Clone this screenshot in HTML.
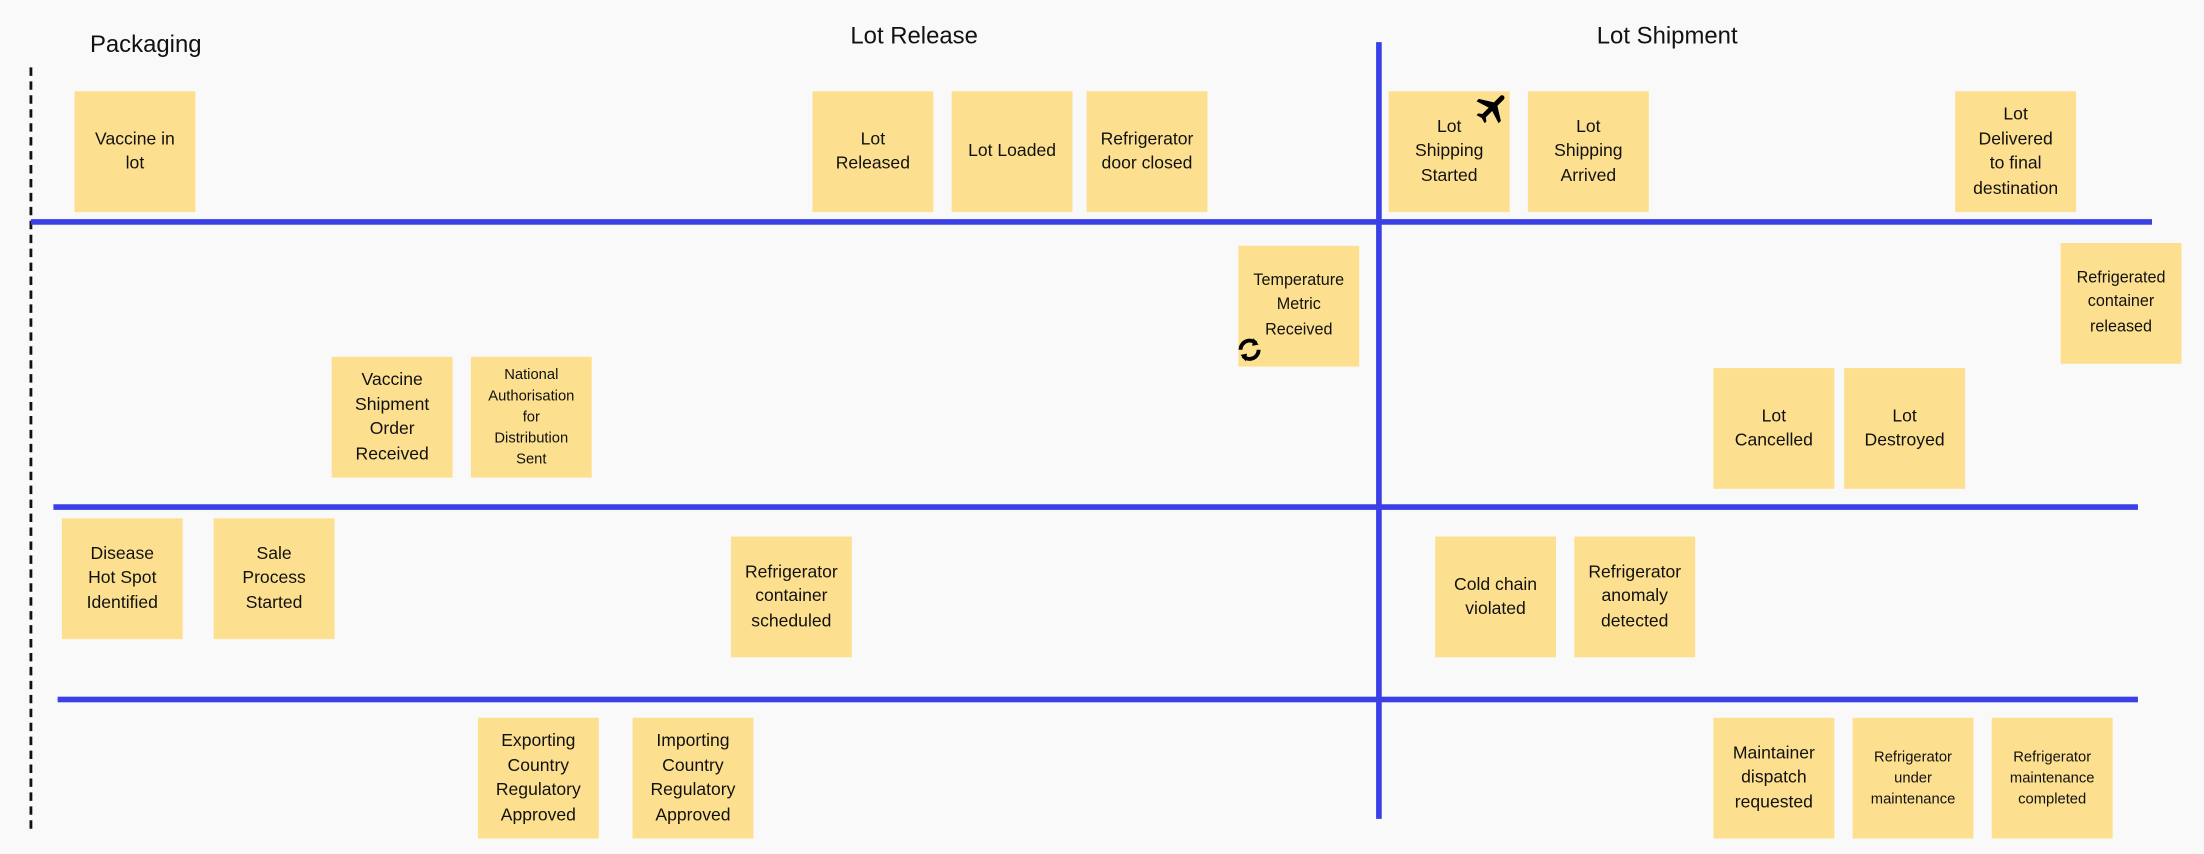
<!DOCTYPE html>
<html><head><meta charset="utf-8"><style>
html,body{margin:0;padding:0;background:#f9f9f9;width:2204px;height:854px;overflow:hidden}
#c{position:absolute;left:0;top:0;width:1568px;height:608px;transform:scale(1.40561,1.40461);transform-origin:0 0;font-family:"Liberation Sans",sans-serif;color:#111}
.s{position:absolute;width:86px;height:86px;background:#fde08f;display:flex;align-items:center;justify-content:center;text-align:center;font-size:12.5px;line-height:17.5px;box-sizing:border-box;padding:0 2px;white-space:nowrap}
.sm{font-size:10.5px;line-height:15px}
.h{position:absolute;background:#3a3fe6;height:4px}
.v{position:absolute;background:#3a3fe6;width:4px}
.t{position:absolute;font-size:17px;white-space:nowrap}
</style></head><body><div id="c">
<div style="position:absolute;left:21px;top:48px;height:542px;border-left:2px dashed #111"></div>
<div class="t" style="left:64px;top:22px">Packaging</div>
<div class="t" style="left:605px;top:16px">Lot Release</div>
<div class="t" style="left:1136px;top:16px">Lot Shipment</div>
<div class="h" style="left:22px;top:156px;width:1509px"></div>
<div class="h" style="left:38px;top:359px;width:1483px"></div>
<div class="h" style="left:41px;top:496px;width:1480px"></div>
<div class="v" style="left:979px;top:30px;height:553px"></div>

<div class="s" style="left:53px;top:65px">Vaccine in<br>lot</div>
<div class="s" style="left:578px;top:65px">Lot<br>Released</div>
<div class="s" style="left:677px;top:65px">Lot Loaded</div>
<div class="s" style="left:773px;top:65px">Refrigerator<br>door closed</div>
<div class="s" style="left:988px;top:65px">Lot<br>Shipping<br>Started</div>
<div class="s" style="left:1087px;top:65px">Lot<br>Shipping<br>Arrived</div>
<div class="s" style="left:1391px;top:65px">Lot<br>Delivered<br>to final<br>destination</div>
<div class="s" style="left:881px;top:175px;font-size:11.5px">Temperature<br>Metric<br>Received</div>
<div class="s" style="left:1466px;top:173px;font-size:11.5px">Refrigerated<br>container<br>released</div>
<div class="s" style="left:236px;top:254px">Vaccine<br>Shipment<br>Order<br>Received</div>
<div class="s sm" style="left:335px;top:254px">National<br>Authorisation<br>for<br>Distribution<br>Sent</div>
<div class="s" style="left:1219px;top:262px">Lot<br>Cancelled</div>
<div class="s" style="left:1312px;top:262px">Lot<br>Destroyed</div>
<div class="s" style="left:44px;top:369px">Disease<br>Hot Spot<br>Identified</div>
<div class="s" style="left:152px;top:369px">Sale<br>Process<br>Started</div>
<div class="s" style="left:520px;top:382px">Refrigerator<br>container<br>scheduled</div>
<div class="s" style="left:1021px;top:382px">Cold chain<br>violated</div>
<div class="s" style="left:1120px;top:382px">Refrigerator<br>anomaly<br>detected</div>
<div class="s" style="left:340px;top:511px">Exporting<br>Country<br>Regulatory<br>Approved</div>
<div class="s" style="left:450px;top:511px">Importing<br>Country<br>Regulatory<br>Approved</div>
<div class="s" style="left:1219px;top:511px">Maintainer<br>dispatch<br>requested</div>
<div class="s sm" style="left:1318px;top:511px">Refrigerator<br>under<br>maintenance</div>
<div class="s sm" style="left:1417px;top:511px">Refrigerator<br>maintenance<br>completed</div>

<svg style="position:absolute;left:1048px;top:63px" width="28" height="28" viewBox="0 0 24 24"><path fill="#000" d="M21 16v-2l-8-5V3.5C13 2.7 12.3 2 11.5 2S10 2.7 10 3.5V9l-8 5v2l8-2.5V19l-2 1.5V22l3.5-1 3.5 1v-1.5L13 19v-5.5z" transform="rotate(45 12 12)"/></svg>
<svg style="position:absolute;left:878px;top:238px" width="22" height="22" viewBox="0 0 24 24"><path fill="none" stroke="#000" stroke-width="3" d="M5 12a7 7 0 0 1 12-5M19 12a7 7 0 0 1-12 5"/><path d="M15 3l4 5-5 1z M9 21l-4-5 5-1z" fill="#000"/></svg>
</div></body></html>
